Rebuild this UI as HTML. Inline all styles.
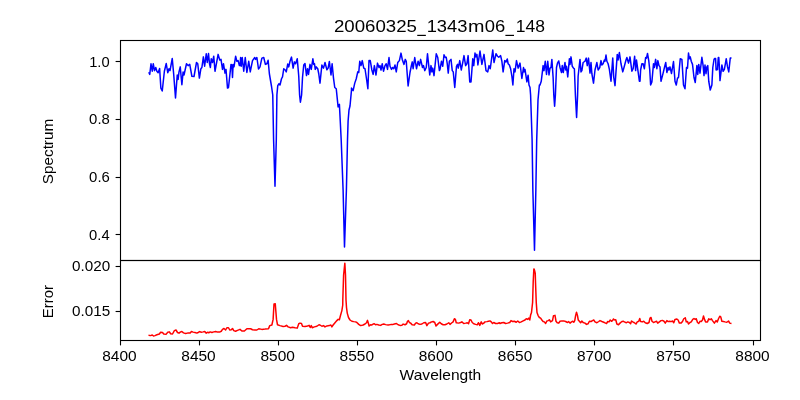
<!DOCTYPE html>
<html><head><meta charset="utf-8"><title>20060325_1343m06_148</title>
<style>html,body{margin:0;padding:0;background:#fff;}body{width:800px;height:400px;overflow:hidden;font-family:"Liberation Sans",sans-serif;}</style>
</head><body>
<svg width="800" height="400" viewBox="0 0 800 400" style="display:block">
<rect width="800" height="400" fill="#fff"/>
<path d="M148.75 72.25 L149.75 74.38 L151.00 63.75 L152.25 71.25 L153.25 63.75 L154.50 70.62 L155.75 67.50 L156.88 71.25 L158.12 72.75 L159.62 68.50 L160.88 88.12 L162.25 91.00 L164.38 71.25 L166.25 63.50 L167.75 72.75 L169.00 68.75 L170.00 70.62 L172.25 58.50 L173.75 75.00 L175.50 98.00 L177.25 75.00 L178.12 79.38 L179.00 71.88 L180.25 66.88 L181.88 84.75 L183.12 71.88 L184.00 75.00 L186.50 63.75 L188.12 65.62 L189.75 64.38 L191.88 76.25 L194.00 76.50 L196.50 62.50 L197.75 63.75 L199.38 78.12 L200.88 68.75 L201.88 67.50 L203.38 56.88 L204.62 66.25 L206.25 53.75 L207.25 62.50 L208.50 53.50 L209.50 63.75 L210.38 67.50 L211.25 58.75 L212.50 62.50 L213.75 56.25 L215.00 71.25 L218.12 54.38 L219.75 60.00 L221.00 59.38 L222.50 69.38 L223.50 63.75 L225.00 73.12 L226.00 69.38 L227.50 88.12 L228.50 87.50 L231.00 64.38 L231.88 65.00 L232.50 77.50 L233.12 64.38 L234.00 66.88 L235.62 56.25 L236.88 61.25 L238.12 60.62 L239.38 65.62 L240.00 65.62 L240.62 57.50 L241.25 66.25 L242.25 57.50 L243.75 71.25 L245.25 57.50 L246.88 72.50 L248.75 61.25 L250.25 71.88 L252.50 60.62 L254.75 57.50 L255.62 59.38 L256.88 57.50 L258.50 69.00 L260.00 66.88 L261.88 58.12 L263.75 57.50 L265.38 64.38 L266.88 63.75 L268.12 60.25 L269.38 73.75 L271.50 86.25 L272.75 95.00 L273.60 140.00 L275.00 186.25 L276.30 140.00 L276.90 95.00 L277.75 85.62 L279.00 83.75 L280.00 85.00 L281.50 78.75 L282.50 76.88 L283.75 68.75 L285.25 70.00 L286.25 71.88 L287.75 64.00 L288.75 66.88 L290.00 61.25 L291.50 57.12 L293.12 68.12 L294.38 61.88 L295.62 63.75 L297.25 58.75 L298.75 76.25 L299.60 95.00 L300.40 102.25 L301.60 95.00 L302.50 77.50 L303.75 65.00 L305.00 63.50 L306.50 75.62 L307.50 68.75 L308.50 74.38 L310.00 64.38 L311.25 69.38 L312.88 58.75 L313.75 64.38 L314.50 63.75 L315.25 69.38 L316.25 66.88 L317.75 68.75 L318.75 73.75 L320.00 83.12 L321.88 65.00 L323.50 68.12 L325.00 62.50 L326.88 69.75 L328.12 68.12 L329.38 61.50 L331.00 75.00 L332.12 63.75 L333.50 78.12 L334.75 87.50 L336.25 88.75 L338.10 106.90 L339.40 104.40 L340.25 121.00 L341.20 140.00 L343.10 190.00 L344.50 246.90 L346.40 190.00 L347.50 140.00 L348.10 121.00 L349.00 110.00 L350.00 106.00 L351.50 90.00 L351.50 88.12 L353.12 90.62 L354.75 83.12 L356.25 78.75 L357.75 71.88 L358.75 72.50 L359.75 61.25 L361.00 65.62 L362.25 60.62 L363.75 68.12 L365.00 68.75 L366.50 78.75 L367.88 88.75 L369.00 60.62 L370.25 60.62 L371.88 70.00 L373.12 74.38 L374.38 65.62 L376.00 75.00 L377.50 63.12 L379.00 67.50 L380.00 65.62 L381.00 70.00 L382.25 63.75 L383.50 71.25 L385.00 65.62 L386.25 63.75 L387.50 69.38 L389.00 57.50 L390.00 66.25 L391.50 69.38 L392.50 67.50 L393.75 68.75 L395.00 65.00 L396.25 71.88 L397.75 62.50 L399.38 60.62 L401.00 53.12 L402.25 59.38 L404.00 64.38 L405.25 59.38 L406.25 61.25 L408.12 86.00 L410.00 72.50 L411.25 66.25 L412.25 61.88 L413.12 68.75 L414.75 57.50 L416.50 68.75 L418.12 61.25 L419.38 65.62 L420.62 59.38 L422.50 67.50 L423.50 65.62 L424.75 70.62 L426.25 67.50 L427.50 53.75 L429.75 75.00 L431.00 65.62 L431.88 71.88 L432.75 68.12 L434.00 75.62 L436.25 53.75 L437.75 57.50 L439.38 70.62 L440.00 69.38 L441.50 61.25 L442.75 66.25 L444.00 54.75 L445.25 57.50 L446.25 57.25 L447.25 63.75 L448.25 73.12 L449.38 61.25 L451.00 59.38 L452.25 70.62 L453.25 71.88 L454.75 87.50 L456.50 66.25 L457.50 64.38 L458.25 68.12 L459.75 60.62 L461.25 70.00 L462.50 63.75 L464.00 55.62 L465.62 65.62 L466.88 63.75 L468.12 55.62 L469.75 81.88 L471.00 81.88 L472.75 58.75 L473.75 65.62 L475.00 53.12 L476.00 56.88 L476.88 54.38 L477.88 65.00 L480.00 51.00 L481.88 64.38 L484.00 54.38 L486.00 70.62 L487.75 71.88 L489.00 65.62 L490.25 68.75 L492.75 50.00 L494.00 62.50 L496.00 53.75 L497.50 56.25 L498.75 57.25 L500.62 55.62 L501.88 61.25 L503.12 71.88 L504.75 60.62 L506.00 61.88 L507.25 59.00 L508.12 63.75 L509.38 65.00 L510.62 68.75 L511.88 76.25 L512.88 85.00 L514.00 68.75 L515.00 71.88 L516.50 60.62 L518.12 68.12 L520.00 63.12 L521.88 78.50 L523.50 67.50 L524.12 71.88 L525.00 69.38 L526.88 81.88 L528.12 75.25 L529.00 85.00 L530.00 87.50 L530.60 95.00 L532.10 140.00 L532.85 190.00 L534.50 250.20 L535.85 190.00 L536.70 140.00 L538.00 100.00 L539.38 85.00 L540.00 85.00 L541.25 81.25 L543.12 65.62 L544.00 70.62 L545.25 61.25 L546.50 74.38 L547.75 61.25 L549.00 75.00 L550.00 68.12 L551.00 67.50 L551.88 59.38 L553.12 77.50 L553.80 95.00 L554.60 106.25 L555.40 95.00 L556.50 67.50 L557.50 63.12 L558.75 61.00 L560.00 67.50 L561.50 72.50 L562.25 65.62 L563.25 72.50 L565.00 62.50 L565.75 70.00 L566.50 66.25 L567.75 76.88 L569.38 58.75 L570.00 64.38 L571.00 56.88 L572.25 66.25 L573.50 68.12 L574.38 68.75 L575.40 95.00 L576.60 117.50 L577.60 95.00 L578.12 76.25 L580.00 59.38 L581.00 71.88 L581.88 70.62 L583.12 62.50 L585.00 61.25 L586.25 58.12 L587.25 65.62 L588.50 58.12 L590.00 73.12 L591.00 62.50 L591.88 73.75 L593.50 83.12 L595.00 70.00 L596.88 62.50 L598.12 70.00 L599.75 67.50 L601.00 60.62 L601.88 65.00 L603.12 63.75 L604.38 60.00 L605.00 61.25 L606.00 55.00 L606.88 61.25 L608.12 63.75 L609.38 69.38 L611.00 81.25 L612.75 58.12 L613.75 77.50 L615.00 85.62 L617.25 54.38 L618.12 60.00 L619.38 52.50 L621.00 63.75 L622.75 71.88 L624.00 67.50 L626.00 60.00 L626.88 57.50 L628.50 63.12 L630.00 56.88 L631.88 71.25 L633.12 68.75 L634.62 56.25 L635.62 70.62 L636.50 60.00 L638.12 71.88 L639.38 81.25 L640.00 81.25 L640.62 70.00 L641.88 63.75 L643.12 63.75 L644.38 68.75 L645.62 57.50 L646.50 58.12 L647.50 53.50 L648.75 60.62 L649.75 70.00 L650.62 85.00 L651.88 81.88 L653.50 63.75 L654.38 67.50 L655.62 59.38 L656.88 68.75 L657.88 60.62 L659.00 65.62 L660.00 66.88 L661.00 81.25 L663.12 73.12 L664.75 66.25 L665.75 62.50 L666.88 72.50 L668.12 67.50 L669.00 70.00 L670.00 66.88 L671.50 73.50 L673.50 61.50 L675.00 81.25 L676.25 85.00 L677.50 78.12 L678.50 77.50 L680.25 58.75 L681.88 59.38 L683.50 85.00 L685.00 88.75 L686.50 67.50 L687.50 68.12 L688.50 53.12 L689.38 58.75 L690.25 56.88 L691.25 61.25 L692.50 64.38 L694.00 77.50 L695.25 82.50 L696.88 65.62 L697.75 74.38 L698.75 64.38 L700.00 73.12 L701.88 57.25 L703.12 65.62 L704.00 75.62 L705.00 65.00 L706.00 73.75 L706.88 66.88 L707.75 65.62 L708.75 81.25 L710.25 90.00 L711.88 85.00 L712.80 67.50 L714.00 59.50 L714.70 58.50 L715.60 58.60 L716.10 70.00 L717.50 69.60 L717.90 62.50 L718.30 57.50 L718.80 57.60 L719.30 65.60 L720.00 80.62 L721.88 65.00 L723.12 71.25 L724.38 69.38 L726.25 58.75 L727.50 66.88 L728.75 71.88 L730.25 58.12 L731.50 58.12" fill="none" stroke="#0000ff" stroke-width="1.5" stroke-linejoin="round" stroke-linecap="butt"/>
<path d="M148.50 335.25 L150.62 335.62 L152.25 335.00 L153.50 336.00 L155.00 335.62 L156.88 334.75 L159.38 334.00 L160.62 332.25 L162.50 332.50 L163.75 334.00 L166.00 334.38 L167.75 332.25 L169.38 331.88 L170.62 333.75 L172.50 334.00 L174.38 330.62 L176.00 330.00 L177.50 332.50 L179.00 333.12 L180.62 331.88 L181.88 331.50 L183.50 332.88 L185.62 333.50 L187.50 333.12 L190.00 333.12 L191.50 331.50 L193.12 332.12 L195.00 332.50 L196.88 333.12 L198.12 332.50 L199.75 331.62 L201.25 332.25 L203.12 331.88 L204.75 331.50 L206.25 333.12 L207.50 332.25 L208.75 332.75 L210.25 331.88 L211.88 332.50 L213.75 331.88 L215.62 331.50 L217.50 332.12 L220.00 331.88 L221.25 331.25 L222.50 329.38 L224.00 328.50 L225.62 330.00 L226.88 327.75 L228.50 327.75 L229.75 330.00 L231.25 329.75 L232.50 328.50 L233.75 330.62 L235.62 331.25 L237.50 330.38 L240.00 329.38 L241.88 331.00 L244.38 331.00 L246.88 328.75 L250.62 328.75 L252.50 329.75 L255.00 330.00 L256.88 330.00 L258.75 328.75 L261.88 329.38 L265.00 329.12 L268.50 328.75 L269.75 325.62 L271.88 325.00 L273.12 319.38 L274.00 304.00 L275.25 303.75 L276.50 319.38 L277.50 324.75 L280.00 325.62 L283.12 326.50 L285.00 326.25 L286.50 325.38 L288.12 326.88 L290.62 327.75 L292.50 327.25 L295.00 327.75 L297.25 328.12 L298.75 323.75 L300.00 323.12 L301.50 323.50 L302.50 326.25 L305.00 326.50 L307.50 326.00 L309.12 325.38 L310.25 327.50 L311.25 325.62 L312.25 327.75 L314.38 326.88 L316.88 326.25 L319.00 324.75 L320.00 325.00 L321.88 326.25 L323.50 325.62 L325.00 326.88 L326.88 325.88 L329.38 325.62 L330.88 325.00 L331.88 326.88 L333.12 325.00 L335.00 322.75 L336.88 320.62 L338.12 319.38 L339.38 319.75 L340.62 315.00 L341.88 310.62 L342.75 305.00 L342.80 300.00 L343.60 275.00 L344.85 263.20 L345.50 275.00 L346.00 300.00 L346.50 307.50 L347.25 313.12 L348.50 317.50 L350.00 320.00 L351.88 321.25 L353.75 321.62 L355.62 321.88 L356.88 322.50 L358.75 324.38 L360.62 325.62 L363.12 325.00 L365.00 324.00 L366.50 322.75 L367.50 320.38 L368.50 323.75 L369.12 326.00 L370.62 324.75 L371.88 325.00 L373.12 324.00 L374.38 323.75 L375.62 324.75 L376.88 324.38 L378.75 325.00 L380.62 325.38 L382.25 324.38 L383.75 324.00 L385.62 324.62 L388.12 325.00 L390.62 324.62 L392.50 324.62 L394.38 324.00 L396.50 323.50 L398.12 324.75 L400.00 325.38 L401.88 325.25 L403.12 324.12 L405.00 324.75 L406.62 323.75 L407.50 321.25 L408.38 320.62 L409.38 322.50 L410.62 323.12 L412.12 324.75 L414.38 325.00 L415.62 323.12 L416.88 322.75 L418.12 323.75 L420.00 324.38 L421.88 324.00 L423.75 322.75 L425.62 322.50 L426.88 325.62 L428.50 323.12 L430.00 322.75 L431.50 321.88 L433.12 321.50 L434.75 322.50 L436.00 326.00 L437.50 324.38 L439.75 322.25 L441.25 323.75 L443.12 324.75 L445.00 324.75 L446.88 324.00 L448.75 322.75 L450.00 324.38 L451.88 322.75 L453.12 321.88 L454.38 318.75 L455.38 319.38 L456.25 322.75 L458.75 323.12 L460.62 322.50 L461.88 321.88 L463.75 323.50 L465.62 323.12 L467.25 322.75 L468.50 323.75 L469.75 319.75 L471.00 320.00 L472.25 322.50 L473.75 323.75 L475.62 324.38 L477.25 324.75 L478.50 322.75 L479.75 325.38 L481.25 321.88 L482.25 324.00 L483.75 323.12 L485.00 321.88 L486.88 321.62 L488.50 321.25 L490.00 320.88 L491.50 322.12 L492.50 323.50 L493.75 322.50 L495.62 323.50 L497.50 323.50 L499.38 322.75 L500.00 323.50 L501.88 322.75 L503.75 322.50 L505.62 323.50 L507.50 323.12 L509.75 322.50 L511.00 320.62 L512.50 321.50 L514.38 321.25 L516.25 322.25 L517.75 321.00 L519.38 322.50 L521.25 321.88 L523.12 320.88 L525.00 320.00 L526.25 318.75 L527.75 319.38 L528.75 318.12 L529.75 320.00 L530.62 315.00 L531.50 312.50 L532.60 302.50 L533.20 282.00 L533.85 269.00 L534.20 269.20 L534.90 271.80 L535.25 273.50 L535.50 282.00 L536.25 302.50 L537.00 312.50 L538.12 315.62 L539.38 317.50 L540.62 318.12 L541.88 320.00 L543.12 321.50 L544.38 321.88 L545.62 323.50 L546.88 321.00 L548.12 320.62 L549.38 319.75 L550.62 321.88 L552.50 320.62 L553.50 315.62 L555.00 315.38 L556.00 321.25 L557.25 322.75 L558.75 323.12 L560.00 321.25 L561.88 320.88 L563.75 320.88 L565.62 321.50 L567.50 322.50 L568.75 321.62 L570.00 323.12 L571.50 321.88 L572.75 321.25 L573.75 322.25 L574.75 320.62 L575.62 315.62 L576.50 312.25 L577.50 315.62 L578.25 320.00 L579.38 321.25 L580.62 322.75 L581.88 321.00 L583.12 322.50 L585.00 323.12 L586.50 324.38 L588.12 323.75 L589.38 321.25 L591.00 321.50 L592.50 320.62 L593.75 320.00 L595.00 321.88 L596.88 322.75 L598.75 321.50 L600.00 320.62 L601.88 321.50 L603.75 322.25 L605.62 323.12 L606.50 323.50 L607.75 321.50 L609.00 321.88 L610.25 320.00 L611.50 321.25 L612.50 320.62 L613.50 319.00 L614.75 320.00 L615.75 319.75 L616.88 324.00 L618.50 324.75 L620.00 323.12 L621.88 321.50 L623.50 321.25 L625.00 322.25 L626.50 322.75 L627.75 321.88 L629.38 322.50 L630.62 323.75 L631.50 321.00 L632.75 321.88 L634.38 322.75 L636.00 324.00 L637.25 321.88 L638.75 321.25 L639.75 318.50 L640.62 321.50 L642.25 321.88 L643.75 321.25 L645.25 322.75 L647.25 323.50 L649.00 322.50 L650.00 318.12 L651.00 317.50 L652.00 321.25 L653.50 322.50 L655.00 321.88 L656.50 321.25 L657.75 323.12 L659.38 321.88 L661.00 320.62 L662.50 320.38 L664.00 321.25 L665.25 323.12 L666.88 320.62 L668.12 321.62 L669.75 321.25 L671.25 321.62 L672.50 321.00 L673.75 322.75 L675.00 319.38 L676.88 319.00 L678.12 320.00 L679.38 323.12 L681.00 323.12 L682.50 321.50 L683.75 318.75 L685.25 317.75 L686.25 321.88 L687.50 321.50 L688.50 324.00 L690.00 322.50 L691.25 321.88 L692.75 319.38 L694.00 318.50 L695.25 319.38 L696.25 318.75 L697.50 322.50 L698.75 323.50 L700.00 321.25 L701.25 321.50 L702.50 320.00 L703.50 316.00 L704.50 319.38 L705.62 321.88 L707.50 321.88 L708.75 318.75 L710.00 319.75 L711.25 318.75 L712.50 320.62 L714.38 323.12 L716.00 320.62 L717.25 321.88 L718.50 318.75 L719.75 316.25 L720.75 316.88 L721.88 321.25 L723.50 321.50 L725.00 321.88 L726.88 322.25 L728.50 321.00 L729.75 323.12 L731.50 323.50" fill="none" stroke="#ff0000" stroke-width="1.5" stroke-linejoin="round" stroke-linecap="butt"/>
<g fill="none" stroke="#000" stroke-width="1.11" stroke-linecap="square">
<rect x="120.5" y="40.5" width="640" height="220"/>
<rect x="120.5" y="260.5" width="640" height="80"/>
</g>
<g stroke="#000" stroke-width="1.11">
<line x1="120.50" y1="340.5" x2="120.50" y2="345.4"/>
<line x1="199.50" y1="340.5" x2="199.50" y2="345.4"/>
<line x1="278.50" y1="340.5" x2="278.50" y2="345.4"/>
<line x1="357.50" y1="340.5" x2="357.50" y2="345.4"/>
<line x1="436.50" y1="340.5" x2="436.50" y2="345.4"/>
<line x1="515.50" y1="340.5" x2="515.50" y2="345.4"/>
<line x1="594.50" y1="340.5" x2="594.50" y2="345.4"/>
<line x1="673.50" y1="340.5" x2="673.50" y2="345.4"/>
<line x1="753.50" y1="340.5" x2="753.50" y2="345.4"/>
<line x1="115.6" y1="61.50" x2="120.5" y2="61.50"/>
<line x1="115.6" y1="119.50" x2="120.5" y2="119.50"/>
<line x1="115.6" y1="177.50" x2="120.5" y2="177.50"/>
<line x1="115.6" y1="234.50" x2="120.5" y2="234.50"/>
<line x1="115.6" y1="266.50" x2="120.5" y2="266.50"/>
<line x1="115.6" y1="311.50" x2="120.5" y2="311.50"/>
</g>
<g font-family="Liberation Sans, sans-serif" fill="#000" style="will-change:transform">
<text x="102.22" y="360.90" font-size="14.20" textLength="34.37" lengthAdjust="spacingAndGlyphs">8400</text>
<text x="181.35" y="360.90" font-size="14.20" textLength="34.37" lengthAdjust="spacingAndGlyphs">8450</text>
<text x="260.49" y="360.90" font-size="14.20" textLength="34.37" lengthAdjust="spacingAndGlyphs">8500</text>
<text x="339.62" y="360.90" font-size="14.20" textLength="34.37" lengthAdjust="spacingAndGlyphs">8550</text>
<text x="418.76" y="360.90" font-size="14.20" textLength="34.37" lengthAdjust="spacingAndGlyphs">8600</text>
<text x="497.89" y="360.90" font-size="14.20" textLength="34.37" lengthAdjust="spacingAndGlyphs">8650</text>
<text x="577.03" y="360.90" font-size="14.20" textLength="34.37" lengthAdjust="spacingAndGlyphs">8700</text>
<text x="656.16" y="360.90" font-size="14.20" textLength="34.37" lengthAdjust="spacingAndGlyphs">8750</text>
<text x="735.30" y="360.90" font-size="14.20" textLength="34.37" lengthAdjust="spacingAndGlyphs">8800</text>
<text x="89.18" y="66.90" font-size="14.20" textLength="20.43" lengthAdjust="spacingAndGlyphs">1.0</text>
<text x="89.13" y="123.85" font-size="14.20" textLength="20.72" lengthAdjust="spacingAndGlyphs">0.8</text>
<text x="89.13" y="181.85" font-size="14.20" textLength="20.72" lengthAdjust="spacingAndGlyphs">0.6</text>
<text x="89.14" y="239.80" font-size="14.20" textLength="20.53" lengthAdjust="spacingAndGlyphs">0.4</text>
<text x="72.02" y="270.90" font-size="14.20" textLength="38.16" lengthAdjust="spacingAndGlyphs">0.020</text>
<text x="72.02" y="316.00" font-size="14.20" textLength="38.20" lengthAdjust="spacingAndGlyphs">0.015</text>
<text x="399.60" y="379.50" font-size="14.40" textLength="81.67" lengthAdjust="spacingAndGlyphs">Wavelength</text>
<text transform="translate(53.25,184.18) rotate(-90)" font-size="14.40" textLength="65.37" lengthAdjust="spacingAndGlyphs">Spectrum</text>
<text transform="translate(53.25,318.37) rotate(-90)" font-size="14.40" textLength="33.35" lengthAdjust="spacingAndGlyphs">Error</text>
<text x="333.93" y="31.70" font-size="17.00" textLength="83.03" lengthAdjust="spacingAndGlyphs">20060325</text>
<text x="426.65" y="31.70" font-size="17.00" textLength="40.79" lengthAdjust="spacingAndGlyphs">1343</text>
<text x="468.07" y="31.70" font-size="17.00" textLength="16.46" lengthAdjust="spacingAndGlyphs">m</text>
<text x="484.72" y="31.70" font-size="17.00" textLength="20.52" lengthAdjust="spacingAndGlyphs">06</text>
<text x="515.71" y="31.70" font-size="17.00" textLength="29.20" lengthAdjust="spacingAndGlyphs">148</text>
<rect x="417.25" y="34.8" width="8.6" height="1.2"/>
<rect x="505.4" y="34.8" width="8.6" height="1.2"/>
</g>
</svg>
</body></html>
